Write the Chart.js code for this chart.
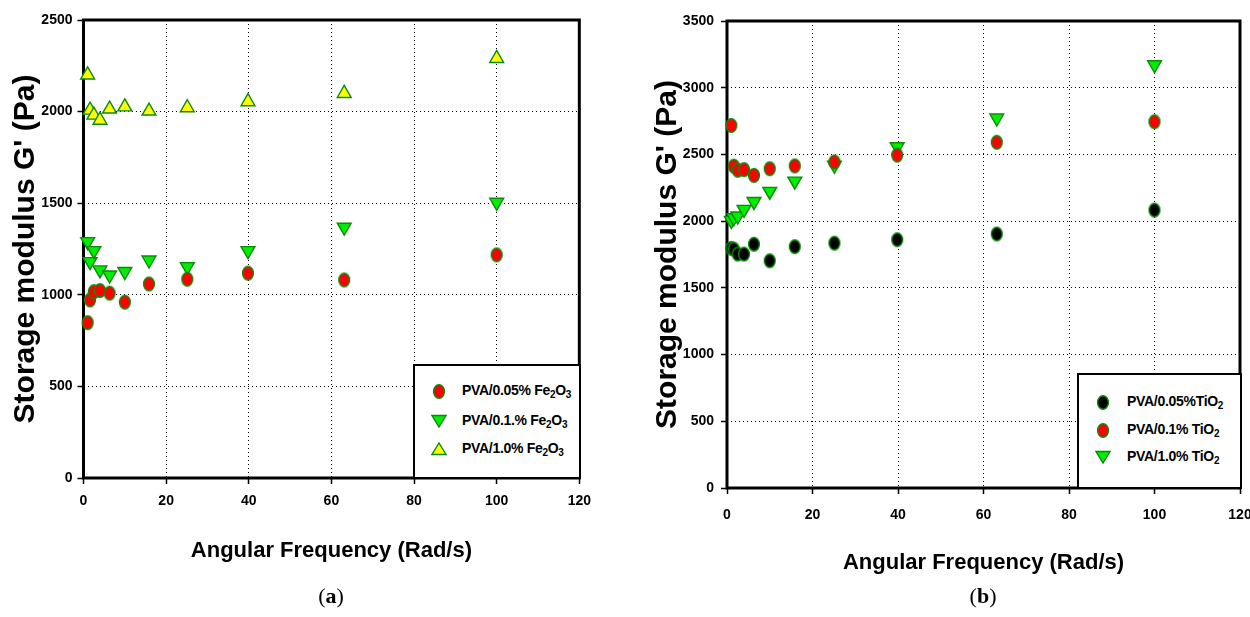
<!DOCTYPE html>
<html><head><meta charset="utf-8">
<script src="https://cdn.jsdelivr.net/npm/chart.js@4.4.1/dist/chart.umd.min.js"></script>
<style>
html,body{margin:0;padding:0;background:#fff;width:1250px;height:617px;overflow:hidden;position:relative;}
.wrap{position:absolute;top:0;height:617px;}
#wa{left:0;width:600px;}
#wb{left:630px;width:650px;}
.legend{position:absolute;background:#fff;border:2px solid #000;box-sizing:border-box;}
.lt{position:absolute;font:bold 14px 'Liberation Sans',Arial,sans-serif;color:#000;white-space:nowrap;line-height:18px;letter-spacing:-0.3px;}
.lt sub{font-size:10px;vertical-align:-3px;line-height:0;}
.lm{position:absolute;}
.cap{position:absolute;top:583px;font:22px 'Liberation Serif','DejaVu Serif',serif;transform:translateX(-50%);color:#000;}
</style></head>
<body>
<div class="wrap" id="wa"><canvas id="ca"></canvas></div>
<div class="wrap" id="wb"><canvas id="cb"></canvas></div>
<div class="legend" id="la" style="left:413px;top:364px;width:168px;height:115px;"></div>
<div class="legend" id="lb" style="left:1077px;top:373px;width:165px;height:116px;"></div>
<div class="cap" style="left:331px;">(<b>a</b>)</div>
<div class="cap" style="left:983px;">(<b>b</b>)</div>
<script>
// ---- data ----
const omega = [1, 1.585, 2.512, 3.981, 6.31, 10, 15.85, 25.12, 39.81, 63.1, 100];
const fe005 = [848, 972, 1017, 1023, 1009, 960, 1059, 1085, 1118, 1081, 1218];
const fe01  = [1290, 1181, 1241, 1136, 1108, 1127, 1190, 1154, 1241, 1369, 1505];
const fe10  = [2200, 2008, 1981, 1953, 2014, 2026, 2003, 2021, 2054, 2099, 2290];
const ti005 = [1796, 1790, 1753, 1753, 1827, 1703, 1809, 1835, 1861, 1904, 2083];
const ti01  = [2717, 2412, 2381, 2386, 2343, 2393, 2414, 2444, 2495, 2591, 2745];
const ti10  = [2005, 2025, 2038, 2088, 2147, 2223, 2300, 2419, 2558, 2773, 3172];
const xTickValues = [0, 20, 40, 60, 80, 100, 120];
const yTicksA = [0, 500, 1000, 1500, 2000, 2500];
const yTicksB = [0, 500, 1000, 1500, 2000, 2500, 3000, 3500];
const namesA = ['PVA/0.05% Fe<sub>2</sub>O<sub>3</sub>', 'PVA/0.1.% Fe<sub>2</sub>O<sub>3</sub>', 'PVA/1.0% Fe<sub>2</sub>O<sub>3</sub>'];
const namesB = ['PVA/0.05%TiO<sub>2</sub>', 'PVA/0.1% TiO<sub>2</sub>', 'PVA/1.0% TiO<sub>2</sub>'];
const xTitle = 'Angular Frequency (Rad/s)';
const yTitle = "Storage modulus G' (Pa)";

const EDGE = '#0b8a0b';
const RED = '#ff0000', GREEN = '#00ee00', YELLOW = '#ffff00', BLACK = '#000000';
const FONT = "'Liberation Sans',Arial,sans-serif";

function ellipseMarker(fill){
  const c = document.createElement('canvas'); c.width = 14; c.height = 17;
  const g = c.getContext('2d');
  g.beginPath(); g.ellipse(7, 8.5, 5.4, 6.8, 0, 0, 2*Math.PI);
  g.fillStyle = fill; g.fill(); g.lineWidth = 1.4; g.strokeStyle = EDGE; g.stroke();
  return c;
}
function pts(vals){ return omega.map((w,i)=>({x:w, y:vals[i]})); }
function ds(label, vals, kind, fill){
  const d = {label, data: pts(vals), backgroundColor: fill, borderColor: EDGE, borderWidth: 1.4, showLine:false, clip:false};
  if (kind === 'circle'){ d.pointStyle = ellipseMarker(fill); d.pointRadius = 7; }
  else { d.pointStyle = 'triangle'; d.pointRadius = 8; d.rotation = kind === 'down' ? 180 : 0; }
  return d;
}
const framePlugin = {
  id:'frame',
  beforeDatasetsDraw(chart){
    const {ctx, chartArea:a} = chart;
    ctx.save(); ctx.strokeStyle = '#000'; ctx.lineWidth = 3;
    ctx.strokeRect(a.left, a.top, a.right - a.left, a.bottom - a.top);
    ctx.restore();
  }
};
function makeChart(id, datasets, yTicks, cfg){
  const grid = {color:'#000', lineWidth:1, tickBorderDash:[], tickColor:'#000', tickWidth:1.5, tickLength:6, drawTicks:true};
  const border = {display:false, dash:[1,3]};
  return new Chart(document.getElementById(id), {
    type:'scatter',
    data:{datasets},
    plugins:[framePlugin],
    options:{
      responsive:true, maintainAspectRatio:false, animation:false,
      layout:{padding:{left:0, top:cfg.top, right:cfg.right, bottom:35}},
      plugins:{legend:{display:false}, tooltip:{enabled:false}},
      scales:{
        x:{type:'linear', min:0, max:120,
           afterBuildTicks:s=>{ s.ticks = xTickValues.map(v=>({value:v})); },
           afterFit:s=>{ s.height = cfg.xh; },
           grid, border,
           ticks:{color:'#000', font:{family:FONT, size:14, weight:'bold'}, padding:cfg.xtk, maxRotation:0, callback:v=>String(v)},
           title:{display:true, text:xTitle, color:'#000', font:{family:FONT, size:22, weight:'bold'}, padding:{top:0, bottom:cfg.xtp}}},
        y:{type:'linear', min:0, max:yTicks[yTicks.length-1],
           afterBuildTicks:s=>{ s.ticks = yTicks.map(v=>({value:v})); },
           afterFit:s=>{ s.width = cfg.yw; },
           grid, border,
           ticks:{color:'#000', font:{family:FONT, size:14, weight:'bold'}, padding:cfg.ytp, callback:v=>String(v)},
           title:{display:true, text:yTitle, color:'#000', font:{family:FONT, size:30, weight:'bold'}, padding:{top:cfg.ytitle, bottom:0}}}
      }
    }
  });
}
makeChart('ca', [
  ds(namesA[0], fe005, 'circle', RED),
  ds(namesA[1], fe01, 'down', GREEN),
  ds(namesA[2], fe10, 'up', YELLOW)
], yTicksA, {top:20, right:20, xh:104, yw:83.5, xtp:18, xtk:9, ytp:5, ytitle:8});
makeChart('cb', [
  ds(namesB[0], ti005, 'circle', BLACK),
  ds(namesB[1], ti01, 'circle', RED),
  ds(namesB[2], ti10, 'down', GREEN)
], yTicksB, {top:21, right:40, xh:94, yw:97, xtp:6, xtk:13, ytp:7, ytitle:20});

// ---- HTML legends ----
function markerSVG(kind, fill){
  if (kind === 'circle') return `<svg width="14" height="17"><ellipse cx="7" cy="8.5" rx="5.4" ry="6.8" fill="${fill}" stroke="${EDGE}" stroke-width="1.4"/></svg>`;
  if (kind === 'down') return `<svg width="16" height="14"><polygon points="1,1.5 15,1.5 8,13" fill="${fill}" stroke="${EDGE}" stroke-width="1.4"/></svg>`;
  return `<svg width="16" height="14"><polygon points="1,12.5 15,12.5 8,1" fill="${fill}" stroke="${EDGE}" stroke-width="1.4"/></svg>`;
}
function buildLegend(id, names, kinds, fills, mx, tx, rows){
  const el = document.getElementById(id);
  const r = el.getBoundingClientRect();
  names.forEach((n,i)=>{
    const m = document.createElement('div'); m.className = 'lm';
    m.innerHTML = markerSVG(kinds[i], fills[i]);
    const w = kinds[i]==='circle'?14:16, h = kinds[i]==='circle'?17:14;
    m.style.left = (mx - r.left - 2 - w/2) + 'px'; m.style.top = (rows[i] - r.top - 2 - h/2) + 'px';
    m.style.width = w+'px'; m.style.height = h+'px';
    el.appendChild(m);
    const t = document.createElement('div'); t.className = 'lt';
    t.innerHTML = n;
    t.style.left = (tx - r.left - 2) + 'px'; t.style.top = (rows[i] - r.top - 2 - 10) + 'px';
    el.appendChild(t);
  });
}
buildLegend('la', namesA, ['circle','down','up'], [RED, GREEN, YELLOW], 439, 462, [391, 421, 449]);
buildLegend('lb', namesB, ['circle','circle','down'], [BLACK, RED, GREEN], 1103, 1127, [402, 430, 457]);
</script>
</body></html>
